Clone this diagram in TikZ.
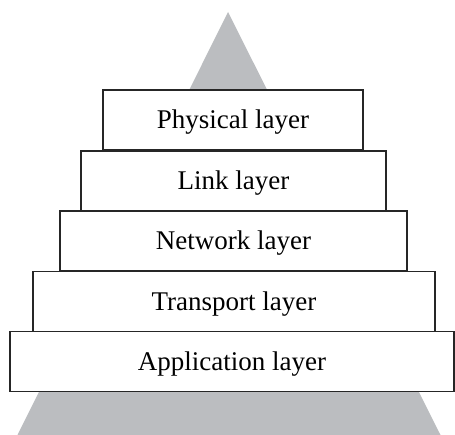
\documentclass[tikz,border=0pt]{standalone}
\usepackage{fontspec}
\setmainfont{Liberation Serif}
\usepackage{tikz}
\definecolor{pyrgray}{RGB}{187,189,192}
\tikzset{
    layerbox/.style={draw=black!85, line width=1.6pt, fill=white,
        rectangle, outer sep=0pt, inner sep=0pt,
        minimum height=60pt, text height=18pt, text depth=0pt,
        font=\fontsize{27}{31}\selectfont}
}

\begin{document}
\begin{tikzpicture}[x=1pt,y=-1pt]
    \useasboundingbox (0,0) rectangle (455,435);
    % background pyramid
    \fill[pyrgray] (228,12) -- (17.5,435) -- (440.5,435) -- cycle;
    \node[layerbox, minimum width=260pt] (physical) at (233,120) {Physical layer};
    \node[layerbox, minimum width=305pt] (link) at (233.5,181) {Link layer};
    \node[layerbox, minimum width=347pt] (network) at (233.5,241) {Network layer};
    \node[layerbox, minimum width=402pt] (transport) at (234,301.5) {Transport layer};
    \node[layerbox, minimum width=444pt] (application) at (232,361.5) {Application layer};
\end{tikzpicture}
\end{document}
